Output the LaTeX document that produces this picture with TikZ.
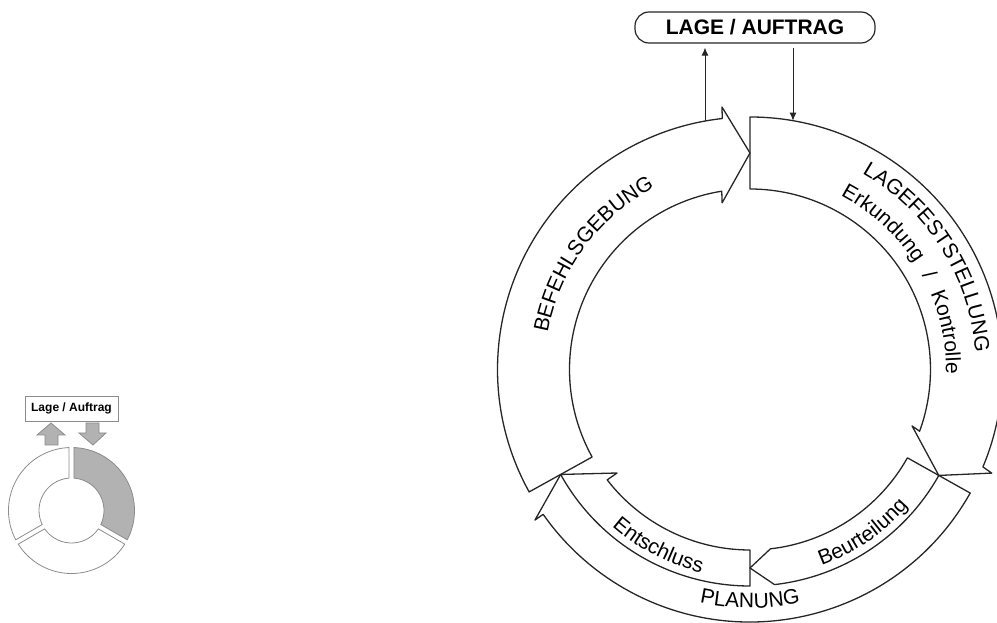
\documentclass[tikz,border=0pt]{standalone}
\usepackage{fontspec}
\setmainfont{Liberation Sans}
\usetikzlibrary{arrows.meta,decorations.text}

\newcommand\ringfont{\fontsize{21}{25}\selectfont}

\begin{document}
\begin{tikzpicture}[x=1pt,y=1pt,
    ring/.style={draw=black!85,line width=1.3pt,line join=round},
    ringtext/.style={decorate,decoration={text along path,text align=center,text={#1}}},
    mini/.style={draw=black!45,line width=0.8pt},
    feed/.style={draw=black!85,line width=1pt,-{Latex[length=8pt,width=7pt]}}]

    \useasboundingbox (0,0) rectangle (997,623);
    \clip (0,0) rectangle (997,623);

    \node[draw=black!85,line width=1.2pt,rounded corners=14pt,inner sep=2pt,minimum width=240pt,minimum height=31pt,font=\bfseries\ringfont] (lage) at (755,595.5) {LAGE / AUFTRAG};

    \begin{scope}[shift={(750,253.5)}]
    \draw[ring] (90:180.5pt) -- (90:252.5pt) arc[start angle=90,end angle=-22.7,radius=252.5pt] -- (-23.2:263pt) -- (-29.3:216.5pt) -- (-19.2:171.6pt) -- (-20:180.5pt) arc[start angle=-20,end angle=90,radius=180.5pt] -- cycle;
    \draw[ring] (209:180.5pt) -- (209:252.5pt) arc[start angle=209,end angle=96.3,radius=252.5pt] -- (96.1:264pt) -- (90:216.5pt) -- (99.5:169pt) -- (99:180.5pt) arc[start angle=99,end angle=209,radius=180.5pt] -- cycle;
    \draw[ring] (-29.3:216.5pt) -- (-29.3:252.5pt) arc[start angle=-29.3,end angle=-145,radius=252.5pt] -- (-145:262.5pt) -- (-151:216.5pt);
    \draw[ring] (-29.3:180.5pt) -- (-29.3:216.5pt) arc[start angle=-29.3,end angle=-83.5,radius=216.5pt] -- (-90:198.5pt) -- (-83.5:180.5pt) arc[start angle=-83.5,end angle=-29.3,radius=180.5pt] -- cycle;
    \draw[ring] (-90:180.5pt) -- (-90:216.5pt) arc[start angle=-90,end angle=-151,radius=216.5pt] -- (-142.1:168.5pt) -- (-142.3:180.5pt) arc[start angle=-142.3,end angle=-90,radius=180.5pt] -- cycle;

    \path[ringtext={|\ringfont|LAGEFESTSTELLUNG}] (72.3:226pt) arc[start angle=72.3,end angle=-7.7,radius=226pt];
    \path[ringtext={|\ringfont|Erkundung{\kern8pt} / {\kern8pt}Kontrolle}] (80.6:196pt) arc[start angle=80.6,end angle=-19.4,radius=196pt];
    \path[ringtext={|\ringfont|BEFEHLSGEBUNG}] (183.7:205.5pt) arc[start angle=183.7,end angle=103.7,radius=205.5pt];
    \path[ringtext={|\ringfont|PLANUNG}] (-120:238.5pt) arc[start angle=-120,end angle=-60,radius=238.5pt];
    \path[ringtext={|\ringfont|Entschluss}] (-137.4:209pt) arc[start angle=-137.4,end angle=-97.4,radius=209pt];
    \path[ringtext={|\ringfont|Beurteilung}] (-75.4:209pt) arc[start angle=-75.4,end angle=-35.4,radius=209pt];

    \coordinate (befout) at (-45,248.5);
    \coordinate (lagein) at (43,248.8);
    \end{scope}

    \draw[feed,shorten >=4pt] (befout) -- (befout |- lage.south);
    \draw[feed,shorten <=4pt] (lage.south -| lagein) -- (lagein);

    \node[draw=black!45,line width=0.8pt,inner sep=2pt,minimum width=93pt,minimum height=25pt,font=\bfseries\fontsize{12}{14}\selectfont] (minilage) at (71.5,214.5) {Lage / Auftrag};

    \filldraw[mini,fill=black!30] (45,178) -- (45,188) -- (37,188) -- (51,200) -- (65,188) -- (58,188) -- (58,178) -- cycle;
    \filldraw[mini,fill=black!30] (86,200) -- (86,190) -- (79,190) -- (93,178) -- (106,190) -- (99,190) -- (99,200) -- cycle;

    \begin{scope}[shift={(71.5,112.5)}]
    \filldraw[mini,fill=black!30] (87.73:63pt) arc[start angle=87.73,end angle=-27.73,radius=63pt] -- (-25.59:32.5pt) arc[start angle=-25.59,end angle=85.59,radius=32.5pt] -- cycle;
    \draw[mini] (-32.27:63pt) arc[start angle=-32.27,end angle=-147.73,radius=63pt] -- (-145.59:32.5pt) arc[start angle=-145.59,end angle=-34.41,radius=32.5pt] -- cycle;
    \draw[mini] (207.73:63pt) arc[start angle=207.73,end angle=92.27,radius=63pt] -- (94.41:32.5pt) arc[start angle=94.41,end angle=205.59,radius=32.5pt] -- cycle;
    \end{scope}

\end{tikzpicture}
\end{document}
